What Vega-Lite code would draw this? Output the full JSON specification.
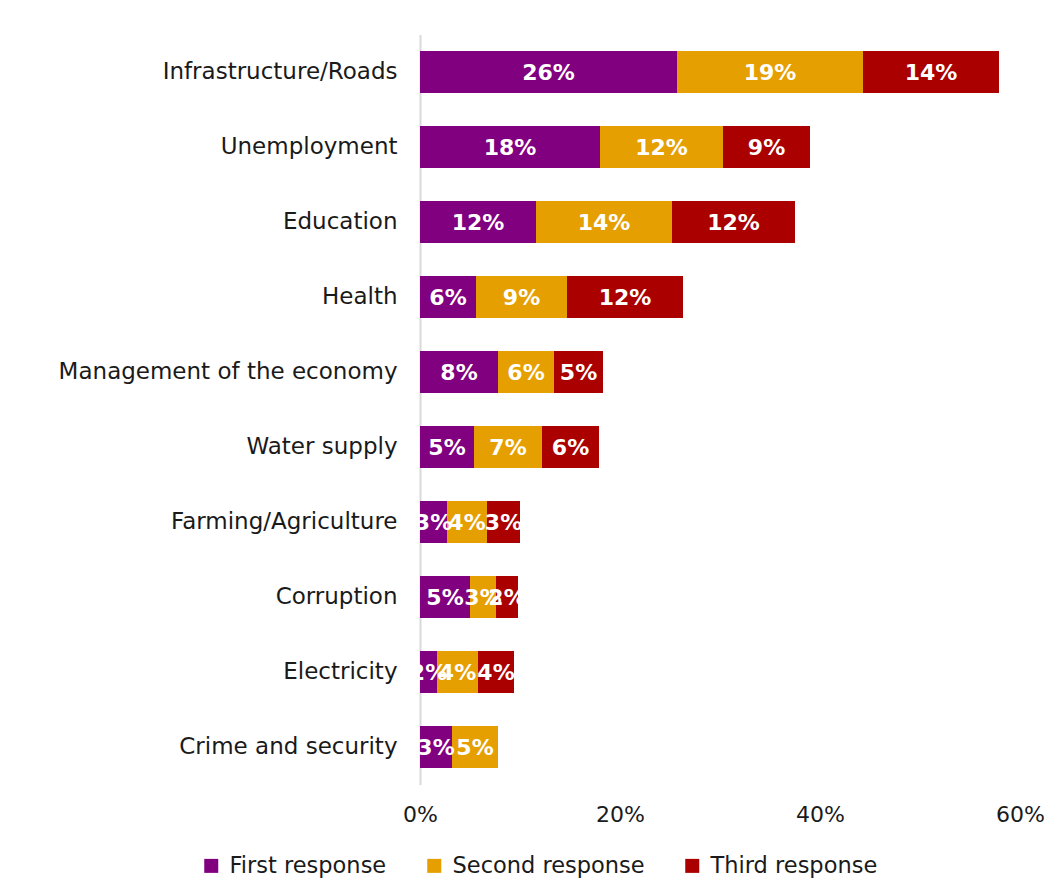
{
  "$schema": "https://vega.github.io/schema/vega-lite/v6.json",
  "width": 600,
  "height": 750,
  "autosize": {"type": "none"},
  "padding": {"left": 420, "top": 34.5, "right": 32, "bottom": 110.5},
  "background": "white",
  "config": {
    "view": {"stroke": null},
    "font": "DejaVu Sans"
  },
  "data": {
    "values": [
      {"issue": "Infrastructure/Roads", "response": "First response", "value": 0.257},
      {"issue": "Infrastructure/Roads", "response": "Second response", "value": 0.186},
      {"issue": "Infrastructure/Roads", "response": "Third response", "value": 0.136},
      {"issue": "Unemployment", "response": "First response", "value": 0.180},
      {"issue": "Unemployment", "response": "Second response", "value": 0.123},
      {"issue": "Unemployment", "response": "Third response", "value": 0.087},
      {"issue": "Education", "response": "First response", "value": 0.116},
      {"issue": "Education", "response": "Second response", "value": 0.136},
      {"issue": "Education", "response": "Third response", "value": 0.123},
      {"issue": "Health", "response": "First response", "value": 0.056},
      {"issue": "Health", "response": "Second response", "value": 0.091},
      {"issue": "Health", "response": "Third response", "value": 0.116},
      {"issue": "Management of the economy", "response": "First response", "value": 0.078},
      {"issue": "Management of the economy", "response": "Second response", "value": 0.056},
      {"issue": "Management of the economy", "response": "Third response", "value": 0.049},
      {"issue": "Water supply", "response": "First response", "value": 0.054},
      {"issue": "Water supply", "response": "Second response", "value": 0.068},
      {"issue": "Water supply", "response": "Third response", "value": 0.057},
      {"issue": "Farming/Agriculture", "response": "First response", "value": 0.027},
      {"issue": "Farming/Agriculture", "response": "Second response", "value": 0.040},
      {"issue": "Farming/Agriculture", "response": "Third response", "value": 0.033},
      {"issue": "Corruption", "response": "First response", "value": 0.050},
      {"issue": "Corruption", "response": "Second response", "value": 0.026},
      {"issue": "Corruption", "response": "Third response", "value": 0.022},
      {"issue": "Electricity", "response": "First response", "value": 0.017},
      {"issue": "Electricity", "response": "Second response", "value": 0.041},
      {"issue": "Electricity", "response": "Third response", "value": 0.036},
      {"issue": "Crime and security", "response": "First response", "value": 0.032},
      {"issue": "Crime and security", "response": "Second response", "value": 0.046}
    ]
  },
  "transform": [
    {"stack": "value", "groupby": ["issue"], "sort": [{"field": "response", "order": "ascending"}], "as": ["v0", "v1"]},
    {"calculate": "(datum.v0 + datum.v1) / 2", "as": "mid"}
  ],
  "encoding": {
    "y": {
      "field": "issue",
      "type": "nominal",
      "sort": ["Infrastructure/Roads", "Unemployment", "Education", "Health", "Management of the economy", "Water supply", "Farming/Agriculture", "Corruption", "Electricity", "Crime and security"],
      "scale": {"paddingInner": 0.44, "paddingOuter": 0.22},
      "axis": {
        "title": null,
        "ticks": false,
        "domainColor": "#d9d9d9",
        "domainWidth": 2,
        "labelFont": "DejaVu Sans",
        "labelFontSize": 23,
        "labelColor": "#1a1a1a",
        "labelPadding": 23,
        "labelLimit": 500
      }
    }
  },
  "layer": [
    {
      "mark": {"type": "bar"},
      "encoding": {
        "x": {
          "field": "v0",
          "type": "quantitative",
          "scale": {"domain": [0, 0.6], "nice": false},
          "axis": {
            "title": null,
            "values": [0, 0.2, 0.4, 0.6],
            "format": ".0%",
            "grid": false,
            "ticks": false,
            "domain": false,
            "labelFont": "DejaVu Sans",
            "labelFontSize": 22,
            "labelColor": "#1a1a1a",
            "labelPadding": 20,
            "labelFlush": false
          }
        },
        "x2": {"field": "v1"},
        "color": {
          "field": "response",
          "type": "nominal",
          "scale": {"domain": ["First response", "Second response", "Third response"], "range": ["#800080", "#E69F00", "#AA0000"]},
          "legend": {
            "title": null,
            "orient": "none",
            "direction": "horizontal",
            "legendX": -220,
            "legendY": 820,
            "symbolType": "square",
            "symbolSize": 196,
            "symbolStrokeWidth": 0,
            "labelFont": "DejaVu Sans",
            "labelFontSize": 22.5,
            "labelColor": "#1a1a1a",
            "labelOffset": 7,
            "columnPadding": 36,
            "labelLimit": 400
          }
        }
      }
    },
    {
      "mark": {"type": "text", "color": "white", "fontWeight": "bold", "fontSize": 22, "font": "DejaVu Sans", "align": "center", "baseline": "middle", "dy": 1},
      "encoding": {
        "x": {"field": "mid", "type": "quantitative"},
        "text": {"field": "value", "type": "quantitative", "format": ".0%"}
      }
    }
  ]
}
